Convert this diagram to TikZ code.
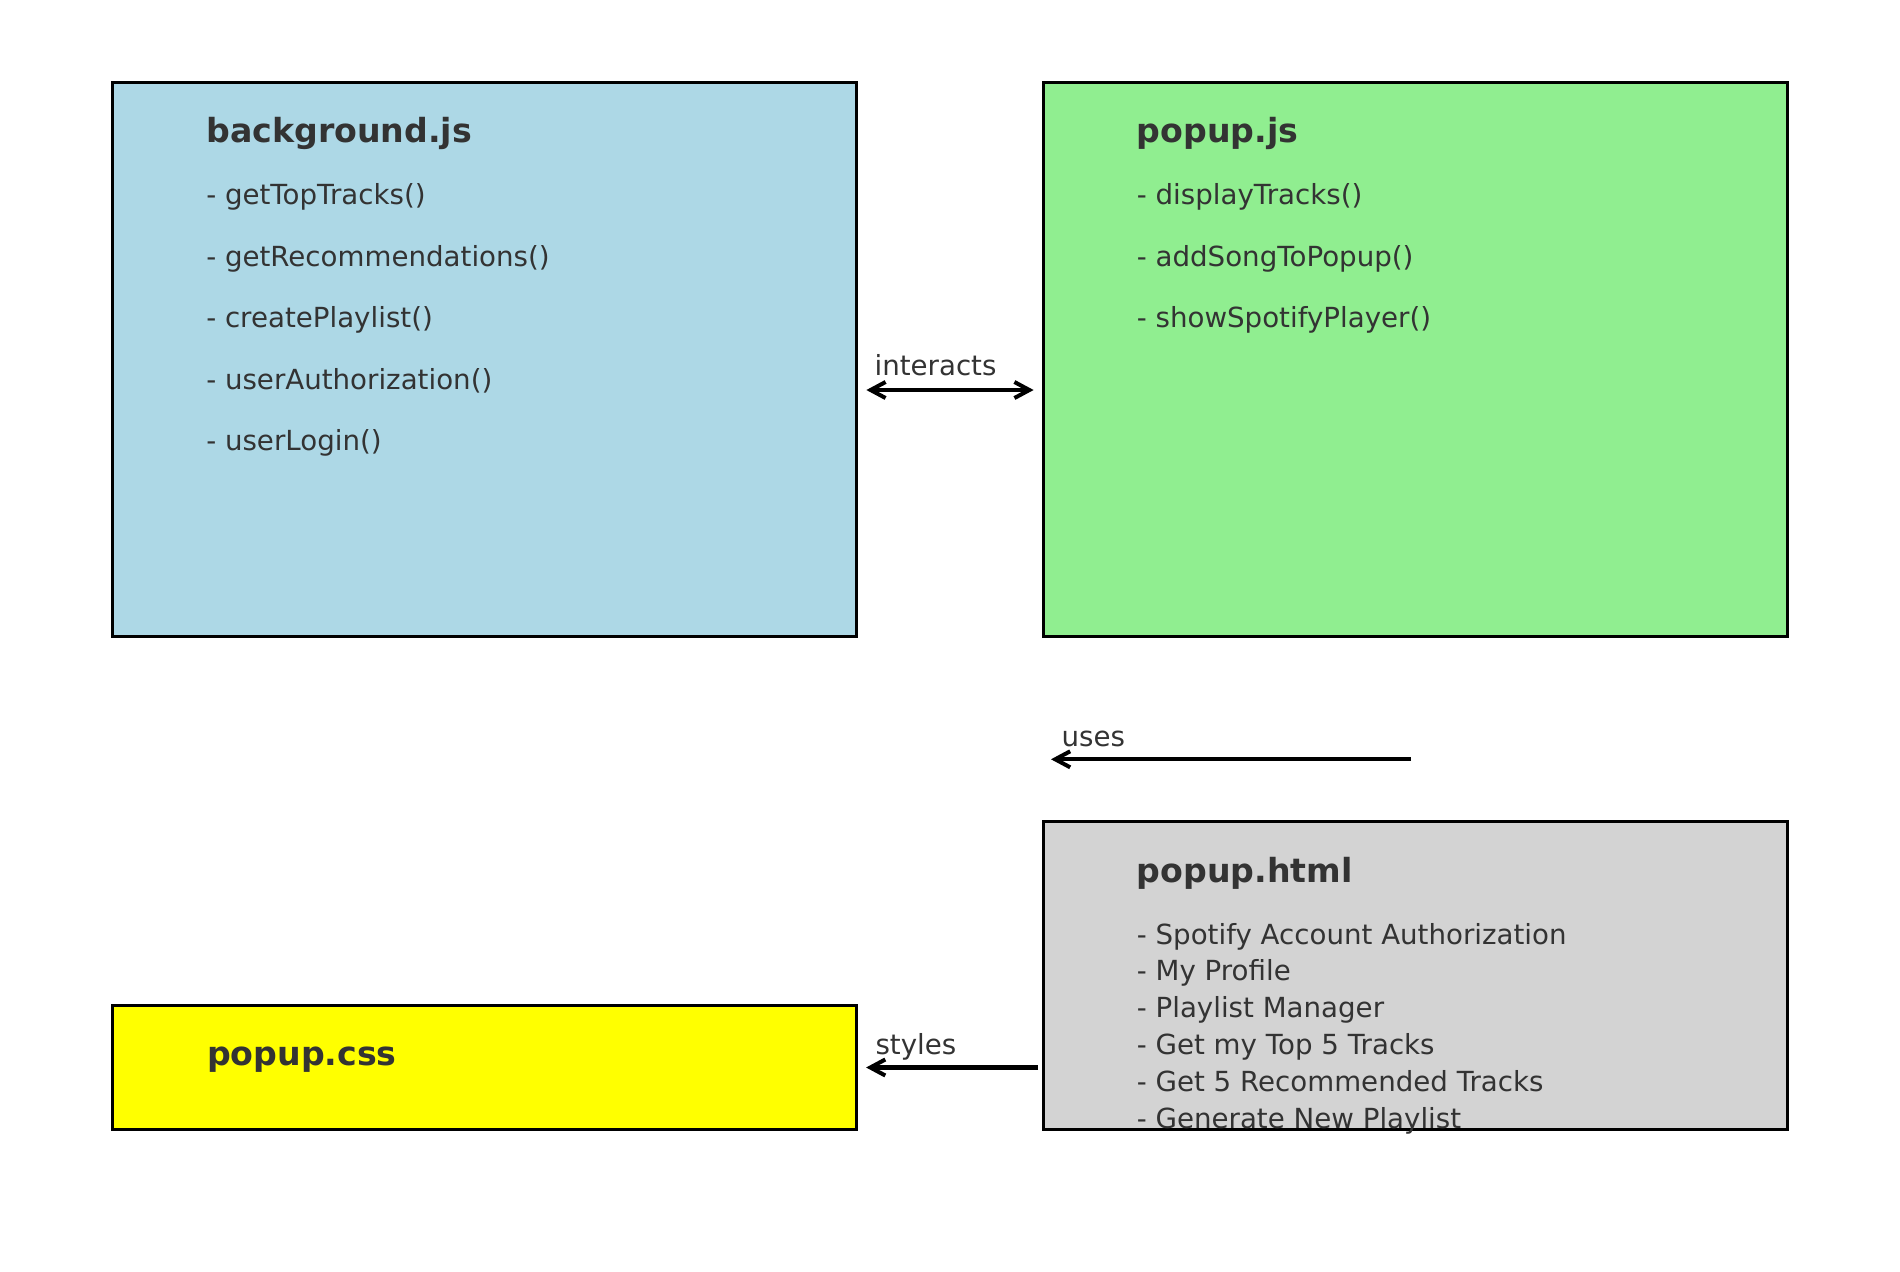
\documentclass[tikz,border=0pt]{standalone}
\usepackage{fontspec}
\setmainfont{DejaVu Sans}
\usetikzlibrary{arrows.meta, fit}
\definecolor{bgblue}{HTML}{ADD8E6}
\definecolor{jsgreen}{HTML}{90EE90}
\definecolor{htmlgray}{HTML}{D3D3D3}
\definecolor{cssyellow}{HTML}{FFFF00}
\definecolor{txtgray}{HTML}{333333}
\tikzset{>={Straight Barb[length=5.4pt,width=5.8pt]}}
\tikzset{
  filebox/.style={draw=black, line width=1pt, inner sep=0pt},
  ftitle/.style={anchor=base west, inner sep=0pt, text=txtgray, font=\fontsize{12}{14}\selectfont\bfseries},
  fitem/.style={anchor=base west, inner sep=0pt, text=txtgray, font=\fontsize{10}{12}\selectfont},
  conn/.style={line width=1.45pt, black},
}

\begin{document}
\begin{tikzpicture}[x=0.36135pt, y=-0.36135pt]
                \useasboundingbox (0,0) rectangle (1900,1272);

                % the four files
                \node[filebox, fill=bgblue, fit={(112.7,82.4) (856.7,636.2)}] (bg) {};
                \node[filebox, fill=jsgreen, fit={(1043.3,82.4) (1787.3,636.2)}] (js) {};
                \node[filebox, fill=htmlgray, fit={(1043.3,821.5) (1787.3,1129.3)}] (html) {};
                \node[filebox, fill=cssyellow, fit={(112.7,1005.7) (856.7,1129.3)}] (css) {};

                % background.js
                \node[ftitle] (bgTitle) at (205.7, 143) {background.js};
                \node[fitem] (bgA) at (205.7, 205) {- getTopTracks()};
                \node[fitem] (bgB) at (205.7, 266.5) {- getRecommendations()};
                \node[fitem] (bgC) at (205.7, 328) {- createPlaylist()};
                \node[fitem] (bgD) at (205.7, 389.5) {- userAuthorization()};
                \node[fitem] (bgE) at (205.7, 451) {- userLogin()};

                % popup.js
                \node[ftitle] (jsTitle) at (1136.3, 143) {popup.js};
                \node[fitem] (jsA) at (1136.3, 205) {- displayTracks()};
                \node[fitem] (jsB) at (1136.3, 266.5) {- addSongToPopup()};
                \node[fitem] (jsC) at (1136.3, 328) {- showSpotifyPlayer()};

                % popup.html
                \node[ftitle] (htmlTitle) at (1136.3, 882.7) {popup.html};
                \node[fitem] (htmlA) at (1136.3, 944) {- Spotify Account Authorization};
                \node[fitem] (htmlB) at (1136.3, 980.9) {- My Profile};
                \node[fitem] (htmlC) at (1136.3, 1017.8) {- Playlist Manager};
                \node[fitem] (htmlD) at (1136.3, 1054.7) {- Get my Top 5 Tracks};
                \node[fitem] (htmlE) at (1136.3, 1091.6) {- Get 5 Recommended Tracks};
                \node[fitem] (htmlF) at (1136.3, 1128.5) {- Generate New Playlist};

                % popup.css
                \node[ftitle] (cssTitle) at (206.5, 1065) {popup.css};

                % connectors
                \draw[conn, <->, shorten <=3pt, shorten >=3pt] ([yshift=-11.1pt]bg.east) -- ([yshift=-11.1pt]js.west);
                \node[fitem] (lblInteracts) at (874, 376) {interacts};

                \coordinate (usesFrom) at (1411, 759.3);
                \coordinate (usesTo) at (1051, 759.3);
                \draw[conn, ->] (usesFrom) -- (usesTo);
                \node[fitem] (lblUses) at (1061, 746) {uses};

                \draw[conn, ->, shorten <=1.4pt, shorten >=2.9pt] (css.east -| html.west) -- (css.east);
                \node[fitem] (lblStyles) at (875, 1054.3) {styles};
            \end{tikzpicture}
\end{document}
